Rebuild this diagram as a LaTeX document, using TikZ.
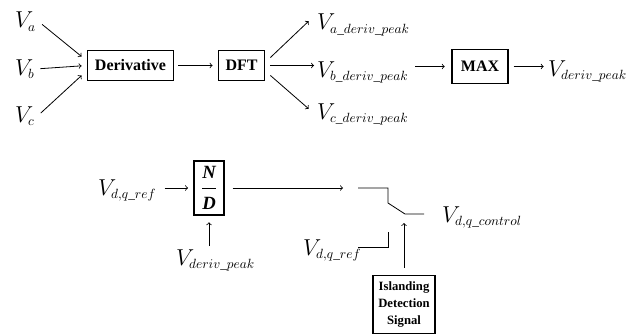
\documentclass[tikz,border=0pt]{standalone}
\usepackage{amsmath}
\usepackage{fontspec}
\setmainfont{Liberation Serif}
\DeclareMathSizes{14}{17.28}{10}{8}
\usetikzlibrary{positioning}

\tikzset{
  block/.style={draw, line width=0.9pt, inner sep=3pt,
    font=\bfseries\fontsize{12}{14}\selectfont},
  signal/.style={inner sep=2pt, font=\fontsize{14}{16}\selectfont},
}

\begin{document}
\begin{tikzpicture}[x=0.75pt, y=-0.75pt, >=to, line width=0.6pt]
  \useasboundingbox (0,0) rectangle (638,335);

  % upper chain
  \foreach \p/\y in {a/28, b/75, c/122}
  \node [signal, anchor=base west] (in-\p) at (12,\y) {$V_\p$};

  \node [block, minimum width=65pt, minimum height=23pt] (deriv) at (130.5,65.5) {Derivative};
  \node [block, minimum width=35pt, minimum height=23pt] (dft) at (241.5,65.5) {DFT};
  \node [block, minimum width=42pt, minimum height=25pt] (max) at (480,66.5) {MAX};

  \foreach \p/\y in {a/30, b/77, c/119}
  \node [signal, anchor=base west] (peak-\p) at (314,\y) {$V_{\p\_deriv\_peak}$};

  \node [signal, anchor=base west] (out) at (545,76) {$V_{deriv\_peak}$};

  \draw [->, shorten <=3pt] (in-a.east) -- ([xshift=-3.75pt, yshift=6.75pt]deriv.west);
  \draw [->, shorten <=2pt, shorten >=3.75pt] (in-b.east) -- (deriv.west);
  \draw [->, shorten <=3pt] (in-c.east) -- ([xshift=-3.75pt, yshift=-7.5pt]deriv.west);

  \draw [->, shorten <=3pt, shorten >=3.75pt] (deriv.east) -- (dft.west);

  \draw [->] ([xshift=3.75pt, yshift=6pt]dft.east) -- ([xshift=-4pt, yshift=3pt]peak-a.west);
  \draw [->, shorten <=3.75pt] (dft.east) -- (peak-b.west |- dft.east);
  \draw [->] ([xshift=3.75pt, yshift=-7.5pt]dft.east) -- ([xshift=-4pt, yshift=4pt]peak-c.west);

  \draw [->, shorten <=3pt, shorten >=5pt] (peak-b.east |- max.west) -- (max.west);
  \draw [->, shorten <=3.75pt, shorten >=1pt] (max.east) -- (out.west |- max.east);

  % lower chain
  \node [signal, anchor=base west] (ref-1) at (95,195) {$V_{d,q\_ref}$};
  \node [block, minimum width=22.5pt, minimum height=40.5pt, inner sep=1pt,
    font=\bfseries\itshape\fontsize{14}{16}\selectfont] (nd) at (209,188)
    {$\dfrac{\text{N}}{\text{D}}$};
  \node [signal, anchor=base west] (dpeak) at (173,265) {$V_{deriv\_peak}$};
  \node [signal, anchor=base west] (ref-2) at (300,255) {$V_{d,q\_ref}$};
  \node [signal, anchor=base west] (ctrl) at (439,222) {$V_{d,q\_control}$};
  \node [block, align=center, minimum width=46.5pt, minimum height=44pt, inner sep=2pt,
    font=\bfseries\fontsize{9.5}{13}\selectfont] (isl) at (404,304.5) {Islanding\\Detection\\Signal};

  \coordinate (sw-in) at (343,188);
  \coordinate (sw-a) at (358,188);
  \coordinate (sw-b) at (388,188);
  \coordinate (sw-c) at (388,203);
  \coordinate (sw-d) at (405,214);
  \coordinate (sw-e) at (424,214);
  \coordinate (sw-f) at (358,247);
  \coordinate (sw-g) at (388,247);
  \coordinate (sw-h) at (388,232);
  \coordinate (sw-s) at (404,223);

  \draw [->, shorten <=4pt, shorten >=4pt] (ref-1.east |- nd.west) -- (nd.west);
  \draw [->, shorten >=5pt] (dpeak.north -| nd.south) -- (nd.south);
  \draw [->, shorten <=6pt] (nd.east) -- (sw-in);

  \draw (sw-a) -- (sw-b) -- (sw-c) -- (sw-d) -- (sw-e);
  \draw (sw-f) -- (sw-g) -- (sw-h);
  \draw [->, shorten <=5pt] (isl.north) -- (sw-s);

\end{tikzpicture}
\end{document}
